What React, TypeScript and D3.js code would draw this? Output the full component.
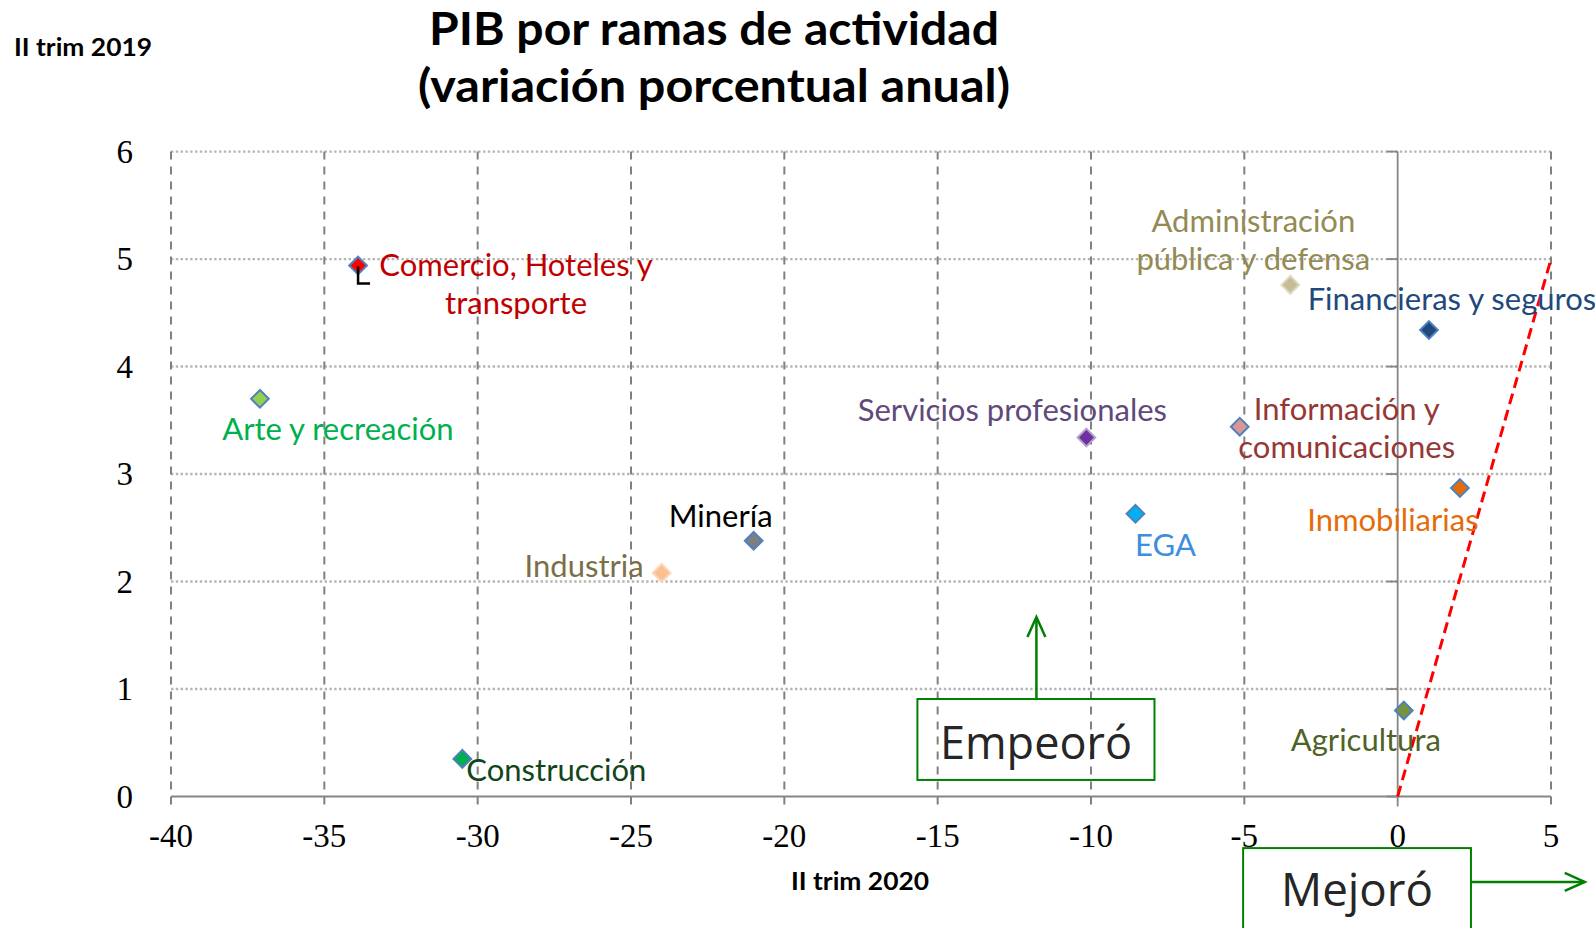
import React from "react";
import * as d3 from "d3";

// Variación porcentual anual del PIB por rama
const ramas = [
  "Comercio, Hoteles y transporte",
  "Arte y recreación",
  "Construcción",
  "Industria",
  "Minería",
  "Servicios profesionales",
  "EGA",
  "Información y comunicaciones",
  "Administración pública y defensa",
  "Financieras y seguros",
  "Inmobiliarias",
  "Agricultura",
];
const trim2020 = [-33.9, -37.1, -30.5, -24.0, -21.0, -10.15, -8.55, -5.15, -3.5, 1.02, 2.03, 0.2];
const trim2019 = [4.94, 3.7, 0.35, 2.08, 2.38, 3.34, 2.63, 3.44, 4.76, 4.34, 2.87, 0.8];

const xTicks = [-40, -35, -30, -25, -20, -15, -10, -5, 0, 5];
const yTicks = [0, 1, 2, 3, 4, 5, 6];

// label text split in lines
const labelLines = [
  ["Comercio, Hoteles y", "transporte"],
  ["Arte y recreación"],
  ["Construcción"],
  ["Industria"],
  ["Minería"],
  ["Servicios profesionales"],
  ["EGA"],
  ["Información y", "comunicaciones"],
  ["Administración", "pública y defensa"],
  ["Financieras y seguros"],
  ["Inmobiliarias"],
  ["Agricultura"],
];

// styles
const fills = ["#FF0000", "#92D050", "#00B050", "#FAC090", "#7F7F7F", "#7030A0", "#00B0F0", "#D99694", "#C4BD97", "#1F497D", "#E46C0A", "#77933C"];
const strokes = ["#4F81BD", "#4F81BD", "#4F81BD", "#FCD5B4", "#4F81BD", "#B3A2C7", "#4F81BD", "#4F81BD", "#DDD9C3", "#4F81BD", "#4F81BD", "#4F81BD"];
const labelColors = ["#C00000", "#00B050", "#12451A", "#7A6F47", "#000000", "#5F497A", "#3E8EDE", "#953735", "#948A54", "#1F497D", "#E46C0A", "#4F6228"];
// label placement relative to the marker (px)
const labelPos: { dx: number; dy: number; anchor: string }[] = [
  { dx: 158, dy: 10, anchor: "middle" },
  { dx: 78, dy: 41, anchor: "middle" },
  { dx: 4, dy: 22, anchor: "start" },
  { dx: -18, dy: 4, anchor: "end" },
  { dx: -33, dy: -14, anchor: "middle" },
  { dx: -74, dy: -17, anchor: "middle" },
  { dx: 30, dy: 42, anchor: "middle" },
  { dx: 107, dy: -7, anchor: "middle" },
  { dx: -37, dy: -53, anchor: "middle" },
  { dx: 23, dy: -20, anchor: "middle" },
  { dx: -67, dy: 43, anchor: "middle" },
  { dx: -38, dy: 40, anchor: "middle" },
];

const W = 1595;
const H = 928;

export default function App() {
  const x = d3.scaleLinear().domain([-40, 5]).range([171, 1551]);
  const y = d3.scaleLinear().domain([0, 6]).range([796.5, 151.6]);

  const diamond = d3.symbol().type(d3.symbolDiamond2).size(200)()!;
  const lineGen = d3.line<[number, number]>().x((d) => x(d[0])).y((d) => y(d[1]));

  const labelFont = "Lato, 'Open Sans', sans-serif";
  const titleFont = "Lato, 'Liberation Sans', sans-serif";
  const green = "#008000";

  // annotation boxes (in data units)
  const emp = { x0: x(-15.66), x1: x(-7.93), y0: y(0.907), y1: y(0.154), ax: x(-11.78), ay: y(1.67) };
  const mej = { x0: x(-5.04), x1: x(2.39), y0: y(-0.48), y1: y(-1.3), ay: y(-0.795), ax: x(6.1) };

  return (
    <svg width={W} height={H} style={{ position: "absolute", left: 0, top: 0, background: "#fff" }}>
      {/* title */}
      <g fontFamily={titleFont} fontWeight="bold" fill="#000" textAnchor="middle">
        <text x={714} y={45} fontSize={45} textLength={570} lengthAdjust="spacingAndGlyphs">PIB por ramas de actividad</text>
        <text x={714} y={102} fontSize={45} textLength={592} lengthAdjust="spacingAndGlyphs">(variación porcentual anual)</text>
      </g>
      <text x={14} y={56} fontFamily={titleFont} fontWeight="bold" fontSize={25} textLength={138} lengthAdjust="spacingAndGlyphs">II trim 2019</text>
      <text x={860} y={890} textAnchor="middle" fontFamily={titleFont} fontWeight="bold" fontSize={25} textLength={138} lengthAdjust="spacingAndGlyphs">II trim 2020</text>

      {/* horizontal dotted gridlines */}
      {yTicks.filter((t) => t > 0).map((t) => (
        <line key={"hy" + t} x1={x(-40)} x2={x(5)} y1={y(t)} y2={y(t)} stroke="#B5B5B5" strokeWidth={2.4} strokeDasharray="2.4 2.4" />
      ))}
      {/* vertical dashed gridlines */}
      {xTicks.filter((t) => t !== 0).map((t) => (
        <line key={"vx" + t} x1={x(t)} x2={x(t)} y1={y(6)} y2={y(0) + 10} stroke="#808080" strokeWidth={2} strokeDasharray="8 7" />
      ))}
      {/* axes */}
      <line x1={x(-40)} x2={x(5)} y1={y(0)} y2={y(0)} stroke="#868686" strokeWidth={2.2} />
      <line x1={x(0)} x2={x(0)} y1={y(6)} y2={y(0) + 10} stroke="#868686" strokeWidth={1.8} />
      {yTicks.map((t) => (
        <line key={"yt" + t} x1={x(0) - 11} x2={x(0)} y1={y(t)} y2={y(t)} stroke="#868686" strokeWidth={1.8} />
      ))}

      {/* tick labels */}
      <g fontFamily="'Liberation Serif', serif" fontSize={33} fill="#000">
        {xTicks.map((t) => (
          <text key={"xl" + t} x={x(t)} y={847} textAnchor="middle">{t}</text>
        ))}
        {yTicks.map((t) => (
          <text key={"yl" + t} x={133} y={y(t) + 11} textAnchor="end">{t}</text>
        ))}
      </g>

      {/* 45 degree reference line */}
      <path d={lineGen([[0, 0], [5, 5]])!} fill="none" stroke="#FF0000" strokeWidth={3} strokeDasharray="11 6" />

      {/* markers */}
      {ramas.map((r, i) => (
        <path key={"m" + i} d={diamond} transform={`translate(${x(trim2020[i])},${y(trim2019[i])})`} fill={fills[i]} stroke={strokes[i]} strokeWidth={2} />
      ))}
      {/* leader on Comercio */}
      <path d={`M${x(trim2020[0])},${y(trim2019[0]) + 1}v17h12`} fill="none" stroke="#000" strokeWidth={2.5} />

      {/* labels */}
      <g fontFamily={labelFont} fontSize={31}>
        {ramas.map((r, i) => (
          <text key={"l" + i} fill={labelColors[i]} textAnchor={labelPos[i].anchor}>
            {labelLines[i].map((ln, j) => (
              <tspan key={j} x={x(trim2020[i]) + labelPos[i].dx} y={y(trim2019[i]) + labelPos[i].dy + j * 38}>{ln}</tspan>
            ))}
          </text>
        ))}
      </g>

      {/* annotations */}
      <rect x={emp.x0} y={emp.y0} width={emp.x1 - emp.x0} height={emp.y1 - emp.y0} fill="#fff" fillOpacity={0} stroke={green} strokeWidth={2} />
      <text x={(emp.x0 + emp.x1) / 2} y={emp.y0 + 60} textAnchor="middle" fontFamily="'Open Sans', sans-serif" fontSize={46} fill="#262626" textLength={192} lengthAdjust="spacingAndGlyphs">Empeoró</text>
      <line x1={emp.ax} x2={emp.ax} y1={emp.y0} y2={emp.ay} stroke={green} strokeWidth={2.5} />
      <path d={`M${emp.ax - 9},${emp.ay + 20}L${emp.ax},${emp.ay}L${emp.ax + 9},${emp.ay + 20}`} fill="none" stroke={green} strokeWidth={2.5} />

      <rect x={mej.x0} y={mej.y0} width={mej.x1 - mej.x0} height={mej.y1 - mej.y0} fill="#fff" stroke={green} strokeWidth={2} />
      <text x={(mej.x0 + mej.x1) / 2} y={mej.y0 + 58} textAnchor="middle" fontFamily="'Open Sans', sans-serif" fontSize={46} fill="#262626" textLength={152} lengthAdjust="spacingAndGlyphs">Mejoró</text>
      <line x1={mej.x1} x2={mej.ax} y1={mej.ay} y2={mej.ay} stroke={green} strokeWidth={2.5} />
      <path d={`M${mej.ax - 20},${mej.ay - 9}L${mej.ax},${mej.ay}L${mej.ax - 20},${mej.ay + 9}`} fill="none" stroke={green} strokeWidth={2.5} />
    </svg>
  );
}
